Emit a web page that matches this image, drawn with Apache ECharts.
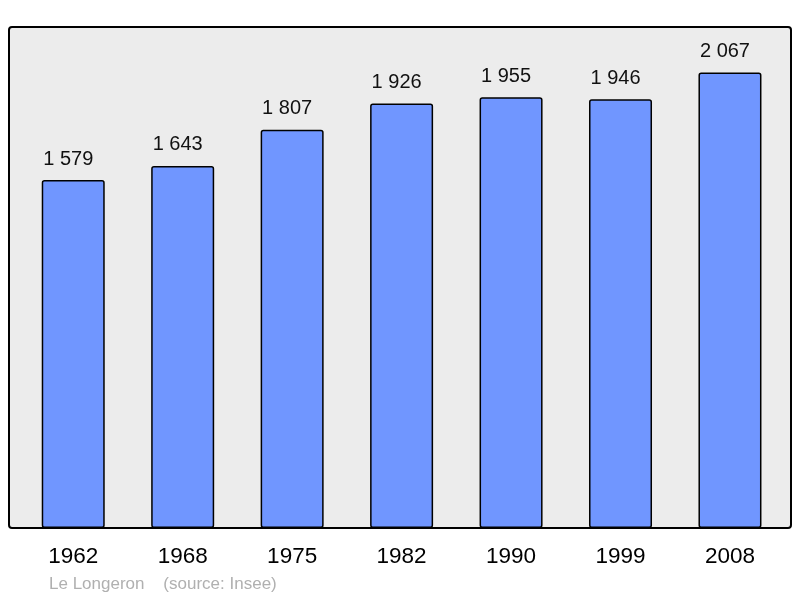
<!DOCTYPE html>
<html>
<head>
<meta charset="utf-8">
<script src="https://cdn.jsdelivr.net/npm/echarts@6/dist/echarts.min.js"></script>
<style>
html, body { margin: 0; padding: 0; background: #fff; }
#main { width: 800px; height: 598px; }
</style>
</head>
<body>
<div id="main"></div>
<script>
// population par recensement
var years = ['1962', '1968', '1975', '1982', '1990', '1999', '2008'];
var population = [1579, 1643, 1807, 1926, 1955, 1946, 2067];
var caption = 'Le Longeron    (source: Insee)';

function fmtNum(v) {
	return String(v).replace(/\B(?=(\d{3})+(?!\d))/g, ' ');
}

var chart = echarts.init(document.getElementById('main'));

var option = {
	backgroundColor: '#ffffff',
	animation: false,
	grid: {
		left: 18.5,
		right: 15.3,
		top: 27,
		bottom: 70
	},
	xAxis: {
		type: 'category',
		data: years,
		axisLine: { show: false },
		axisTick: { show: false },
		axisLabel: {
			margin: 17,
			fontSize: 22.5,
			color: '#000',
			fontFamily: 'Liberation Sans, Arial, sans-serif'
		}
	},
	yAxis: {
		type: 'value',
		min: 0,
		max: 2273.7,
		show: false,
		splitLine: { show: false }
	},
	graphic: [
		{
			type: 'rect',
			z: -10,
			shape: { x: 9, y: 27, width: 782, height: 501, r: 3 },
			style: { fill: '#ececec', stroke: null }
		},
		{
			type: 'rect',
			z: 100,
			shape: { x: 9, y: 27, width: 782, height: 501, r: 3 },
			style: { fill: null, stroke: '#000', lineWidth: 2 }
		},
		{
			type: 'text',
			left: 49,
			top: 576,
			style: {
				text: caption,
				fill: '#b0b0b0',
				fontSize: 17,
				fontFamily: 'Liberation Sans, Arial, sans-serif'
			}
		}
	],
	series: [{
		type: 'bar',
		data: population,
		barWidth: 63,
		itemStyle: {
			color: '#7096ff',
			borderColor: '#000',
			borderWidth: 1.5,
			borderRadius: 2
		},
		label: {
			show: true,
			position: 'top',
			distance: 11,
			offset: [-5, 0],
			fontSize: 20,
			color: '#111',
			fontFamily: 'Liberation Sans, Arial, sans-serif',
			formatter: function (p) { return fmtNum(p.value); }
		}
	}]
};

chart.setOption(option);
</script>
</body>
</html>
